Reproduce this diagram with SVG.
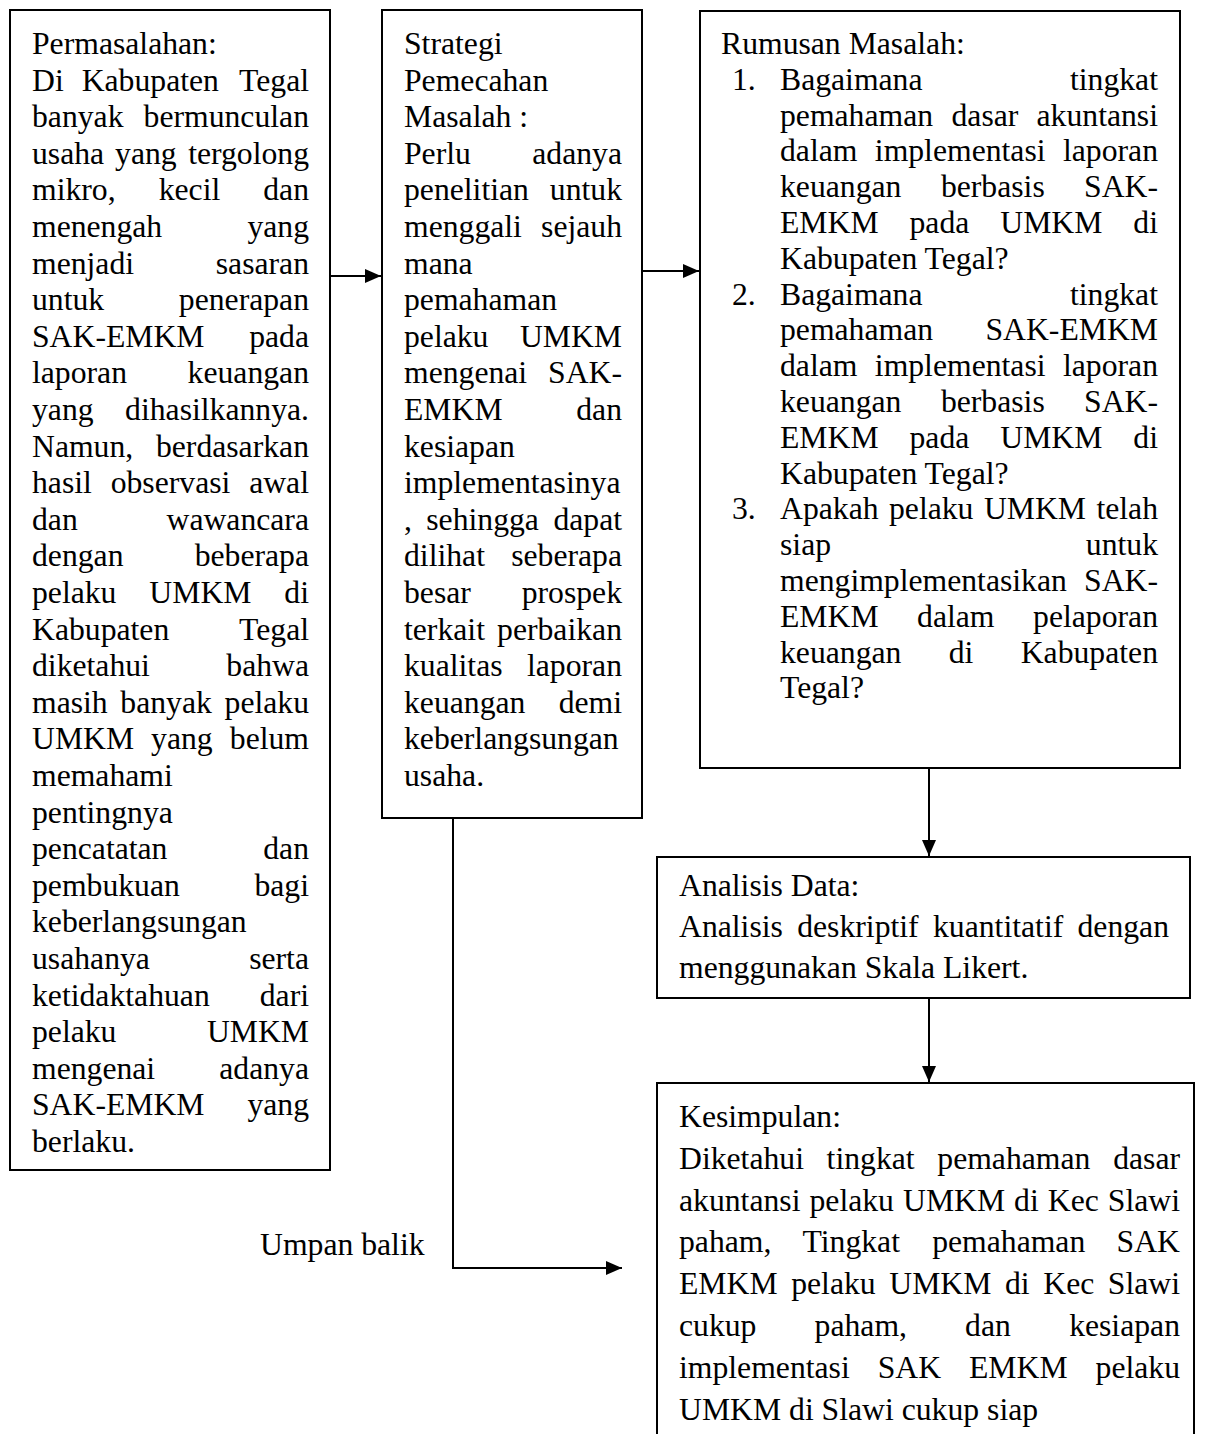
<svg xmlns="http://www.w3.org/2000/svg" width="1206" height="1434" viewBox="0 0 1206 1434">
<style>
text{font-family:"Liberation Serif","Times New Roman",serif;font-size:31.7px;fill:#000}
.r{text-anchor:end}
.m{text-anchor:middle}
.box{fill:#fff;stroke:#000;stroke-width:2}
.ln{fill:none;stroke:#000;stroke-width:2}
</style>
<defs>
<marker id="ah" markerWidth="16" markerHeight="14" refX="16" refY="7" orient="auto" markerUnits="userSpaceOnUse"><path d="M0,0 L16,7 L0,14 z" fill="#000"/></marker>
</defs>
<rect width="1206" height="1434" fill="#fff"/>
<g id="connectors">
<line class="ln" x1="330" y1="276" x2="381" y2="276" marker-end="url(#ah)"/>
<line class="ln" x1="642" y1="271" x2="699" y2="271" marker-end="url(#ah)"/>
<line class="ln" x1="929" y1="768" x2="929" y2="856" marker-end="url(#ah)"/>
<line class="ln" x1="929" y1="998" x2="929" y2="1082" marker-end="url(#ah)"/>
<polyline class="ln" points="453,818 453,1268 622,1268" marker-end="url(#ah)"/>
<text x="260" y="1255">Umpan balik</text>
</g>
<g id="permasalahan">
<rect class="box" x="10" y="10" width="320" height="1160"/>
<text x="32" y="54">Permasalahan:</text>
<text x="32" y="90.6">Di</text><text class="m" x="150.3" y="90.6">Kabupaten</text><text class="r" x="309" y="90.6">Tegal</text>
<text x="32" y="127.2">banyak</text><text class="r" x="309" y="127.2">bermunculan</text>
<text x="32" y="163.8">usaha</text><text class="m" x="145.9" y="163.8">yang</text><text class="r" x="309" y="163.8">tergolong</text>
<text x="32" y="200.4">mikro,</text><text class="m" x="189.5" y="200.4">kecil</text><text class="r" x="309" y="200.4">dan</text>
<text x="32" y="237">menengah</text><text class="r" x="309" y="237">yang</text>
<text x="32" y="273.6">menjadi</text><text class="r" x="309" y="273.6">sasaran</text>
<text x="32" y="310.2">untuk</text><text class="r" x="309" y="310.2">penerapan</text>
<text x="32" y="346.8">SAK-EMKM</text><text class="r" x="309" y="346.8">pada</text>
<text x="32" y="383.4">laporan</text><text class="r" x="309" y="383.4">keuangan</text>
<text x="32" y="420">yang</text><text class="r" x="309" y="420">dihasilkannya.</text>
<text x="32" y="456.6">Namun,</text><text class="r" x="309" y="456.6">berdasarkan</text>
<text x="32" y="493.2">hasil</text><text class="m" x="170.5" y="493.2">observasi</text><text class="r" x="309" y="493.2">awal</text>
<text x="32" y="529.8">dan</text><text class="r" x="309" y="529.8">wawancara</text>
<text x="32" y="566.4">dengan</text><text class="r" x="309" y="566.4">beberapa</text>
<text x="32" y="603">pelaku</text><text class="m" x="200.4" y="603">UMKM</text><text class="r" x="309" y="603">di</text>
<text x="32" y="639.6">Kabupaten</text><text class="r" x="309" y="639.6">Tegal</text>
<text x="32" y="676.2">diketahui</text><text class="r" x="309" y="676.2">bahwa</text>
<text x="32" y="712.8">masih</text><text class="m" x="166.1" y="712.8">banyak</text><text class="r" x="309" y="712.8">pelaku</text>
<text x="32" y="749.4">UMKM</text><text class="m" x="181.9" y="749.4">yang</text><text class="r" x="309" y="749.4">belum</text>
<text x="32" y="786">memahami</text>
<text x="32" y="822.6">pentingnya</text>
<text x="32" y="859.2">pencatatan</text><text class="r" x="309" y="859.2">dan</text>
<text x="32" y="895.8">pembukuan</text><text class="r" x="309" y="895.8">bagi</text>
<text x="32" y="932.4">keberlangsungan</text>
<text x="32" y="969">usahanya</text><text class="r" x="309" y="969">serta</text>
<text x="32" y="1005.6">ketidaktahuan</text><text class="r" x="309" y="1005.6">dari</text>
<text x="32" y="1042.2">pelaku</text><text class="r" x="309" y="1042.2">UMKM</text>
<text x="32" y="1078.8">mengenai</text><text class="r" x="309" y="1078.8">adanya</text>
<text x="32" y="1115.4">SAK-EMKM</text><text class="r" x="309" y="1115.4">yang</text>
<text x="32" y="1152">berlaku.</text>
</g>
<g id="strategi">
<rect class="box" x="382" y="10" width="260" height="808"/>
<text x="404" y="54">Strategi</text>
<text x="404" y="90.6">Pemecahan</text>
<text x="404" y="127.2">Masalah :</text>
<text x="404" y="163.8">Perlu</text><text class="r" x="622" y="163.8">adanya</text>
<text x="404" y="200.4">penelitian</text><text class="r" x="622" y="200.4">untuk</text>
<text x="404" y="237">menggali</text><text class="r" x="622" y="237">sejauh</text>
<text x="404" y="273.6">mana</text>
<text x="404" y="310.2">pemahaman</text>
<text x="404" y="346.8">pelaku</text><text class="r" x="622" y="346.8">UMKM</text>
<text x="404" y="383.4">mengenai</text><text class="r" x="622" y="383.4">SAK-</text>
<text x="404" y="420">EMKM</text><text class="r" x="622" y="420">dan</text>
<text x="404" y="456.6">kesiapan</text>
<text x="404" y="493.2">implementasinya</text>
<text x="404" y="529.8">,</text><text class="m" x="482.6" y="529.8">sehingga</text><text class="r" x="622" y="529.8">dapat</text>
<text x="404" y="566.4">dilihat</text><text class="r" x="622" y="566.4">seberapa</text>
<text x="404" y="603">besar</text><text class="r" x="622" y="603">prospek</text>
<text x="404" y="639.6">terkait</text><text class="r" x="622" y="639.6">perbaikan</text>
<text x="404" y="676.2">kualitas</text><text class="r" x="622" y="676.2">laporan</text>
<text x="404" y="712.8">keuangan</text><text class="r" x="622" y="712.8">demi</text>
<text x="404" y="749.4">keberlangsungan</text>
<text x="404" y="786">usaha.</text>
</g>
<g id="rumusan">
<rect class="box" x="700" y="11" width="480" height="757"/>
<text x="721" y="54">Rumusan Masalah:</text>
<text x="732" y="89.8">1.</text><text x="780" y="89.8">Bagaimana</text><text class="r" x="1158" y="89.8">tingkat</text>
<text x="780" y="125.6">pemahaman</text><text class="m" x="984.9" y="125.6">dasar</text><text class="r" x="1158" y="125.6">akuntansi</text>
<text x="780" y="161.4">dalam</text><text class="m" x="960.2" y="161.4">implementasi</text><text class="r" x="1158" y="161.4">laporan</text>
<text x="780" y="197.2">keuangan</text><text class="m" x="992.8" y="197.2">berbasis</text><text class="r" x="1158" y="197.2">SAK-</text>
<text x="780" y="233">EMKM</text><text x="909.5" y="233">pada</text><text x="1000.3" y="233">UMKM</text><text class="r" x="1158" y="233">di</text>
<text x="780" y="268.8">Kabupaten Tegal?</text>
<text x="732" y="304.6">2.</text><text x="780" y="304.6">Bagaimana</text><text class="r" x="1158" y="304.6">tingkat</text>
<text x="780" y="340.4">pemahaman</text><text class="r" x="1158" y="340.4">SAK-EMKM</text>
<text x="780" y="376.2">dalam</text><text class="m" x="960.2" y="376.2">implementasi</text><text class="r" x="1158" y="376.2">laporan</text>
<text x="780" y="412">keuangan</text><text class="m" x="992.8" y="412">berbasis</text><text class="r" x="1158" y="412">SAK-</text>
<text x="780" y="447.8">EMKM</text><text x="909.5" y="447.8">pada</text><text x="1000.3" y="447.8">UMKM</text><text class="r" x="1158" y="447.8">di</text>
<text x="780" y="483.6">Kabupaten Tegal?</text>
<text x="732" y="519.4">3.</text><text x="780" y="519.4">Apakah</text><text x="889" y="519.4">pelaku</text><text x="983.9" y="519.4">UMKM</text><text class="r" x="1158" y="519.4">telah</text>
<text x="780" y="555.2">siap</text><text class="r" x="1158" y="555.2">untuk</text>
<text x="780" y="591">mengimplementasikan</text><text class="r" x="1158" y="591">SAK-</text>
<text x="780" y="626.8">EMKM</text><text class="m" x="955.8" y="626.8">dalam</text><text class="r" x="1158" y="626.8">pelaporan</text>
<text x="780" y="662.6">keuangan</text><text class="m" x="961.1" y="662.6">di</text><text class="r" x="1158" y="662.6">Kabupaten</text>
<text x="780" y="698.4">Tegal?</text>
</g>
<g id="analisis">
<rect class="box" x="657" y="857" width="533" height="141"/>
<text x="679" y="896">Analisis Data:</text>
<text x="679" y="937">Analisis</text><text x="797.2" y="937">deskriptif</text><text x="933" y="937">kuantitatif</text><text class="r" x="1169" y="937">dengan</text>
<text x="679" y="978">menggunakan Skala Likert.</text>
</g>
<g id="kesimpulan">
<rect class="box" x="657" y="1083" width="537" height="370"/>
<text x="679" y="1127">Kesimpulan:</text>
<text x="679" y="1169">Diketahui</text><text x="826.6" y="1169">tingkat</text><text x="937.3" y="1169">pemahaman</text><text class="r" x="1180" y="1169">dasar</text>
<text x="679" y="1211">akuntansi</text><text x="809.5" y="1211">pelaku</text><text x="903" y="1211">UMKM</text><text x="1014.1" y="1211">di</text><text x="1047.8" y="1211">Kec</text><text class="r" x="1180" y="1211">Slawi</text>
<text x="679" y="1252">paham,</text><text x="802.5" y="1252">Tingkat</text><text x="932.2" y="1252">pemahaman</text><text class="r" x="1180" y="1252">SAK</text>
<text x="679" y="1294">EMKM</text><text x="791.2" y="1294">pelaku</text><text x="889.3" y="1294">UMKM</text><text x="1005" y="1294">di</text><text x="1043.3" y="1294">Kec</text><text class="r" x="1180" y="1294">Slawi</text>
<text x="679" y="1336">cukup</text><text x="814.6" y="1336">paham,</text><text x="965.1" y="1336">dan</text><text class="r" x="1180" y="1336">kesiapan</text>
<text x="679" y="1378">implementasi</text><text x="877.7" y="1378">SAK</text><text x="969" y="1378">EMKM</text><text class="r" x="1180" y="1378">pelaku</text>
<text x="679" y="1420">UMKM di Slawi cukup siap</text>
</g>
</svg>
